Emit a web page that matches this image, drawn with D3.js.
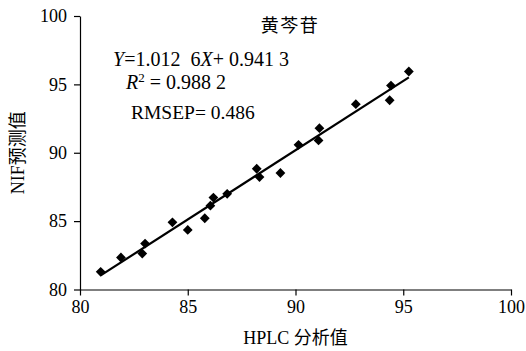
<!DOCTYPE html>
<html>
<head>
<meta charset="utf-8">
<script src="https://cdn.jsdelivr.net/npm/d3@7"></script>
<style>
  html, body { margin: 0; padding: 0; background: #fff; }
  svg text { font-family: "Liberation Serif", "Noto Sans CJK SC", serif; fill: #000; white-space: pre; }
</style>
</head>
<body>
<div id="chart"></div>
<script>
// HPLC reference values (x) vs NIR predicted values (y)
const hplc = [80.96, 81.90, 82.89, 83.02, 84.29, 85.00, 85.79, 86.05, 86.19, 86.83,
              88.20, 88.33, 89.30, 90.14, 91.07, 91.11, 92.80, 94.37, 94.43, 95.26];
const nirPred = [81.29, 82.34, 82.63, 83.36, 84.91, 84.36, 85.21, 86.13, 86.72, 87.00,
                 88.83, 88.22, 88.52, 90.58, 90.90, 91.80, 93.55, 93.84, 94.91, 95.94];
const xTicks = [80, 85, 90, 95, 100];
const yTicks = [80, 85, 90, 95, 100];

const width = 526, height = 351;
const margin = { top: 16, right: 15, bottom: 61.5, left: 80 };

const svg = d3.select('#chart').append('svg')
  .attr('width', width)
  .attr('height', height);

const x = d3.scaleLinear().domain([80, 100]).range([margin.left, width - margin.right]);
const y = d3.scaleLinear().domain([80, 100]).range([height - margin.bottom, margin.top]);

// axes
const xAxis = svg.append('g')
  .attr('transform', `translate(0,${y(80)})`)
  .call(d3.axisBottom(x).tickValues(xTicks).tickFormat(d3.format('d'))
    .tickSize(6).tickSizeOuter(0).tickPadding(5));

const yAxis = svg.append('g')
  .attr('transform', `translate(${x(80)},0)`)
  .call(d3.axisLeft(y).tickValues(yTicks).tickFormat(d3.format('d'))
    .tickSize(6).tickSizeOuter(0).tickPadding(7));

[xAxis, yAxis].forEach(g => {
  g.select('.domain').attr('stroke', '#000').attr('stroke-width', 1.2);
  g.selectAll('.tick line').attr('stroke', '#000').attr('stroke-width', 1.2);
  g.selectAll('.tick text')
    .style('font-family', '"Liberation Serif", serif')
    .style('font-size', '18px')
    .attr('fill', '#000');
});

// least squares trend line through the points
const pts = hplc.map((v, i) => [v, nirPred[i]]);
const mx = d3.mean(hplc), my = d3.mean(nirPred);
const slope = d3.sum(pts, p => (p[0] - mx) * (p[1] - my)) / d3.sum(pts, p => (p[0] - mx) ** 2);
const icpt = my - slope * mx;
const [x0, x1] = d3.extent(hplc);

svg.append('line')
  .attr('x1', x(x0)).attr('y1', y(slope * x0 + icpt))
  .attr('x2', x(x1)).attr('y2', y(slope * x1 + icpt))
  .attr('stroke', '#000')
  .attr('stroke-width', 2.2);

// diamond markers
svg.append('g')
  .selectAll('path')
  .data(pts)
  .join('path')
  .attr('d', d3.symbol(d3.symbolSquare, 48))
  .attr('transform', d => `translate(${x(d[0])},${y(d[1])}) rotate(45)`)
  .attr('fill', '#000');

// title and annotations
svg.append('text')
  .attr('x', 290).attr('y', 32)
  .attr('text-anchor', 'middle')
  .style('font-size', '18px')
  .style('letter-spacing', '1.5px')
  .text('黄芩苷');

const eq = svg.append('text')
  .attr('x', 113).attr('y', 66)
  .style('font-size', '20px');
eq.append('tspan').style('font-style', 'italic').text('Y');
eq.append('tspan').text('=1.012  6');
eq.append('tspan').style('font-style', 'italic').text('X');
eq.append('tspan').text('+ 0.941 3');

const r2 = svg.append('text')
  .attr('x', 126).attr('y', 89)
  .style('font-size', '20px');
r2.append('tspan').style('font-style', 'italic').text('R');
r2.append('tspan').attr('dy', -7).style('font-size', '13px').text('2');
r2.append('tspan').attr('dy', 7).text(' = 0.988 2');

svg.append('text')
  .attr('x', 131).attr('y', 119)
  .style('font-size', '19.5px')
  .text('RMSEP= 0.486');

// axis titles
svg.append('text')
  .attr('x', (x(80) + x(100)) / 2).attr('y', 344)
  .attr('text-anchor', 'middle')
  .style('font-size', '18px')
  .text('HPLC 分析值');

svg.append('text')
  .attr('transform', `translate(24,${(y(80) + y(100)) / 2}) rotate(-90)`)
  .attr('text-anchor', 'middle')
  .style('font-size', '18px')
  .text('NIF预测值');
</script>
</body>
</html>
